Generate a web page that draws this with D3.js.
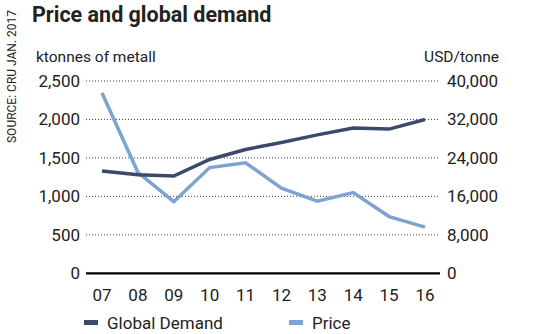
<!DOCTYPE html>
<html><head><meta charset="utf-8">
<script src="https://cdn.jsdelivr.net/npm/d3@7"></script>
<style>body{margin:0;background:#fff}svg{display:block}text{font-family:Roboto,"Liberation Sans",sans-serif;fill:#222}</style>
</head><body><svg id="c" width="548" height="334"></svg>
<script>
const years = ["07","08","09","10","11","12","13","14","15","16"];
const demand = [1330,1280,1265,1480,1610,1700,1800,1890,1875,2000];
const price = [37500,21000,14900,22000,23000,17700,15000,16800,11800,9600];
const leftTicks = [0,500,1000,1500,2000,2500];
const rightTicks = [0,8000,16000,24000,32000,40000];
const seriesNames = ["Global Demand","Price"];
const colors = ["#3b4a6b","#7ba4d1"];

const svg = d3.select("#c");
const x = d3.scalePoint().domain(years).range([102,425]);
const yL = d3.scaleLinear().domain([0,2500]).range([273.3,81]);
const yR = d3.scaleLinear().domain([0,40000]).range([273.3,81]);
const fmt = d3.format(",");
const fs = 17;

// grid
svg.append("g").selectAll("line").data(leftTicks.filter(d=>d>0)).join("line")
  .attr("x1",86).attr("x2",440).attr("y1",d=>yL(d)).attr("y2",d=>yL(d))
  .attr("stroke","#444").attr("stroke-width",1).attr("stroke-dasharray","1,2");
svg.append("line").attr("x1",86).attr("x2",440).attr("y1",yL(0)).attr("y2",yL(0))
  .attr("stroke","#000").attr("stroke-width",2.2);

// axes labels
svg.append("g").selectAll("text").data(leftTicks).join("text")
  .attr("x",80).attr("y",d=>yL(d)+6).attr("text-anchor","end").attr("font-size",fs).text(d=>fmt(d));
svg.append("g").selectAll("text").data(rightTicks).join("text")
  .attr("x",447).attr("y",d=>yR(d)+6).attr("text-anchor","start").attr("font-size",fs).text(d=>fmt(d));
svg.append("g").selectAll("text").data(years).join("text")
  .attr("x",d=>x(d)).attr("y",301).attr("text-anchor","middle").attr("font-size",fs).text(d=>d);

// lines
const lineL = d3.line().x((d,i)=>x(years[i])).y(d=>yL(d));
const lineR = d3.line().x((d,i)=>x(years[i])).y(d=>yR(d));
svg.append("path").datum(price).attr("d",lineR).attr("fill","none").attr("stroke",colors[1]).attr("stroke-width",3.5).attr("stroke-linejoin","miter");
svg.append("path").datum(demand).attr("d",lineL).attr("fill","none").attr("stroke",colors[0]).attr("stroke-width",3.5).attr("stroke-linejoin","miter");

// titles
svg.append("text").attr("x",32).attr("y",22).attr("font-size",21.5).attr("font-weight","bold").attr("fill","#1a1a1a").text("Price and global demand");
svg.append("text").attr("x",36).attr("y",62).attr("font-size",15.5).text("ktonnes of metall");
svg.append("text").attr("x",499).attr("y",62).attr("text-anchor","end").attr("font-size",15.5).text("USD/tonne");
svg.append("text").attr("transform","translate(16,143) rotate(-90)").attr("font-size",12).attr("fill","#555").text("SOURCE: CRU JAN. 2017");

// legend
const legX = [84,289];
seriesNames.forEach((n,i)=>{
  svg.append("rect").attr("x",legX[i]).attr("y",320).attr("width",14).attr("height",5).attr("fill",colors[i]);
  svg.append("text").attr("x",legX[i]+23).attr("y",329).attr("font-size",fs).text(n);
});
</script></body></html>
